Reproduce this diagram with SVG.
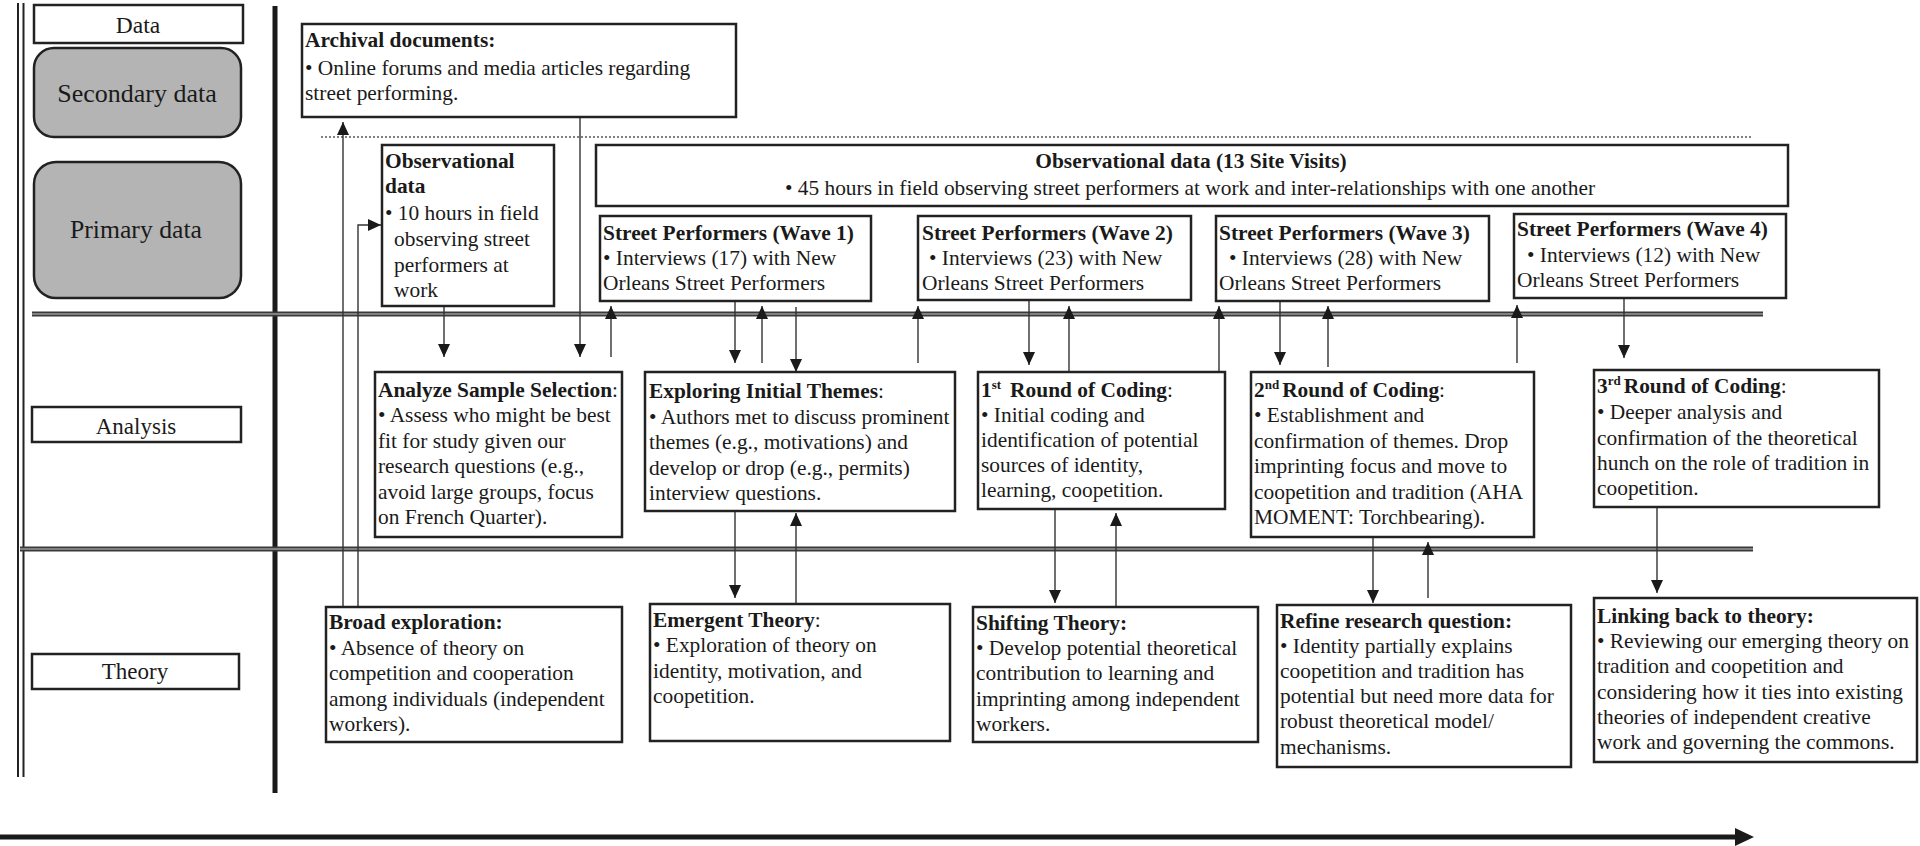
<svg xmlns="http://www.w3.org/2000/svg" width="1920" height="846" viewBox="0 0 1920 846">
<defs>
<style>
.t{font-family:"Liberation Serif","Times New Roman",serif;font-size:21.4px;fill:#1a1a1a}
.b{font-weight:bold}
.lab{font-family:"Liberation Serif","Times New Roman",serif;fill:#1a1a1a;text-anchor:middle}
.box{fill:#fff;stroke:#222;stroke-width:2.5}
.gbox{fill:#b4b4b4;stroke:#222;stroke-width:2.5}
.c{stroke:#333;stroke-width:1.4;fill:none}
.ca{stroke:#333;stroke-width:1.4;fill:none;marker-end:url(#ah)}
.hl{stroke:#3a3a3a;stroke-width:5;fill:none}
.hli{stroke:#9a9a9a;stroke-width:1.5;fill:none}
</style>
<marker id="ah" markerUnits="userSpaceOnUse" markerWidth="14" markerHeight="12" refX="13" refY="6" orient="auto">
<path d="M0,0 L13,6 L0,12 z" fill="#1a1a1a"/>
</marker>
</defs>
<rect width="1920" height="846" fill="#fff"/>

<g id="frame">
<line x1="18" y1="3" x2="18" y2="777" stroke="#222" stroke-width="2"/>
<line x1="23.5" y1="3" x2="23.5" y2="777" stroke="#222" stroke-width="2"/>
<line x1="275" y1="6" x2="275" y2="793" stroke="#1a1a1a" stroke-width="5"/>
<line class="hl" x1="32" y1="314" x2="1763" y2="314"/>
<line class="hli" x1="32" y1="314" x2="1763" y2="314"/>
<line class="hl" x1="20" y1="549" x2="1753" y2="549"/>
<line class="hli" x1="20" y1="549" x2="1753" y2="549"/>
<line x1="321" y1="137" x2="1753" y2="137" stroke="#555" stroke-width="1.3" stroke-dasharray="2 2"/>
<line x1="0" y1="837" x2="1736" y2="837" stroke="#1a1a1a" stroke-width="5"/>
<path d="M1735,828 L1754,837 L1735,846 z" fill="#1a1a1a"/>
</g>

<g id="lbl-data">
<rect class="box" x="34" y="5" width="209" height="38"/>
<text class="lab" x="138" y="33" font-size="23.5">Data</text>
</g>
<g id="lbl-secondary">
<rect class="gbox" x="34" y="48" width="207" height="89" rx="20"/>
<text class="lab" x="137" y="102" font-size="26">Secondary data</text>
</g>
<g id="lbl-primary">
<rect class="gbox" x="34" y="162" width="207" height="136" rx="22"/>
<text class="lab" x="136" y="238" font-size="25.7">Primary data</text>
</g>
<g id="lbl-analysis">
<rect class="box" x="32" y="407" width="209" height="35" stroke-width="2"/>
<text class="lab" x="136" y="434" font-size="23">Analysis</text>
</g>
<g id="lbl-theory">
<rect class="box" x="32" y="654" width="207" height="35" stroke-width="2"/>
<text class="lab" x="135" y="679" font-size="23">Theory</text>
</g>

<g id="connectors">
<line class="ca" x1="343" y1="607" x2="343" y2="122"/>
<polyline class="ca" points="358,607 358,225 381,225"/>
<line class="ca" x1="580" y1="117" x2="580" y2="357"/>
<line class="ca" x1="444" y1="306" x2="444" y2="357"/>
<line class="ca" x1="611" y1="357" x2="611" y2="306"/>
<line class="ca" x1="735" y1="301" x2="735" y2="363"/>
<line class="ca" x1="762" y1="363" x2="762" y2="306"/>
<line class="ca" x1="796" y1="307" x2="796" y2="372"/>
<line class="ca" x1="918" y1="363" x2="918" y2="306"/>
<line class="ca" x1="1029" y1="300" x2="1029" y2="365"/>
<line class="ca" x1="1069" y1="372" x2="1069" y2="306"/>
<line class="ca" x1="1219" y1="372" x2="1219" y2="306"/>
<line class="ca" x1="1280" y1="301" x2="1280" y2="365"/>
<line class="ca" x1="1328" y1="367" x2="1328" y2="306"/>
<line class="ca" x1="1517" y1="363" x2="1517" y2="305"/>
<line class="ca" x1="1624" y1="298" x2="1624" y2="358"/>
<line class="ca" x1="735" y1="511" x2="735" y2="598"/>
<line class="ca" x1="796" y1="604" x2="796" y2="513"/>
<line class="ca" x1="1055" y1="509" x2="1055" y2="603"/>
<line class="ca" x1="1116" y1="607" x2="1116" y2="513"/>
<line class="ca" x1="1373" y1="537" x2="1373" y2="603"/>
<line class="ca" x1="1428" y1="598" x2="1428" y2="542"/>
<line class="ca" x1="1657" y1="507" x2="1657" y2="593"/>
</g>

<g id="archival">
<rect class="box" x="302" y="24" width="434" height="93"/>
<text class="t b" x="305" y="47">Archival documents:</text>
<text class="t" x="305" y="75">• Online forums and media articles regarding</text>
<text class="t" x="305" y="100">street performing.</text>
</g>

<g id="obs-small">
<rect class="box" x="382" y="145" width="172" height="161"/>
<text class="t b" x="385" y="168">Observational</text>
<text class="t b" x="385" y="193">data</text>
<text class="t" x="385" y="220">• 10 hours in field</text>
<text class="t" x="394" y="246">observing street</text>
<text class="t" x="394" y="272">performers at</text>
<text class="t" x="394" y="297">work</text>
</g>

<g id="obs-13">
<rect class="box" x="596" y="145" width="1192" height="61"/>
<text class="t b" x="1191" y="168" text-anchor="middle">Observational data (13 Site Visits)</text>
<text class="t" x="1190" y="195" text-anchor="middle">• 45 hours in field observing street performers at work and inter-relationships with one another</text>
</g>

<g id="wave1">
<rect class="box" x="600" y="216" width="271" height="85"/>
<text class="t b" x="603" y="240">Street Performers (Wave 1)</text>
<text class="t" x="603" y="265">• Interviews (17) with New</text>
<text class="t" x="603" y="290">Orleans Street Performers</text>
</g>
<g id="wave2">
<rect class="box" x="918" y="216" width="273" height="84"/>
<text class="t b" x="922" y="240">Street Performers (Wave 2)</text>
<text class="t" x="929" y="265">• Interviews (23) with New</text>
<text class="t" x="922" y="290">Orleans Street Performers</text>
</g>
<g id="wave3">
<rect class="box" x="1216" y="216" width="273" height="85"/>
<text class="t b" x="1219" y="240">Street Performers (Wave 3)</text>
<text class="t" x="1229" y="265">• Interviews (28) with New</text>
<text class="t" x="1219" y="290">Orleans Street Performers</text>
</g>
<g id="wave4">
<rect class="box" x="1514" y="214" width="272" height="84"/>
<text class="t b" x="1517" y="236">Street Performers (Wave 4)</text>
<text class="t" x="1527" y="262">• Interviews (12) with New</text>
<text class="t" x="1517" y="287">Orleans Street Performers</text>
</g>

<g id="analyze">
<rect class="box" x="375" y="372" width="247" height="165"/>
<text class="t" x="378" y="397"><tspan class="b">Analyze Sample Selection</tspan>:</text>
<text class="t" x="378" y="422">• Assess who might be best</text>
<text class="t" x="378" y="448">fit for study given our</text>
<text class="t" x="378" y="473">research questions (e.g.,</text>
<text class="t" x="378" y="499">avoid large groups, focus</text>
<text class="t" x="378" y="524">on French Quarter).</text>
</g>

<g id="exploring">
<rect class="box" x="645" y="372" width="310" height="139"/>
<text class="t" x="649" y="398"><tspan class="b">Exploring Initial Themes</tspan>:</text>
<text class="t" x="649" y="424">• Authors met to discuss prominent</text>
<text class="t" x="649" y="449">themes (e.g., motivations) and</text>
<text class="t" x="649" y="475">develop or drop (e.g., permits)</text>
<text class="t" x="649" y="500">interview questions.</text>
</g>

<g id="round1">
<rect class="box" x="978" y="372" width="247" height="137"/>
<text class="t" x="981" y="397"><tspan class="b">1</tspan><tspan class="b" font-size="13" dy="-8">st</tspan><tspan class="b" dy="8" dx="9">Round of Coding</tspan>:</text>
<text class="t" x="981" y="422">• Initial coding and</text>
<text class="t" x="981" y="447">identification of potential</text>
<text class="t" x="981" y="472">sources of identity,</text>
<text class="t" x="981" y="497">learning, coopetition.</text>
</g>

<g id="round2">
<rect class="box" x="1251" y="372" width="283" height="165"/>
<text class="t" x="1254" y="397"><tspan class="b">2</tspan><tspan class="b" font-size="13" dy="-8">nd</tspan><tspan class="b" dy="8" dx="3">Round of Coding</tspan>:</text>
<text class="t" x="1254" y="422">• Establishment and</text>
<text class="t" x="1254" y="448">confirmation of themes. Drop</text>
<text class="t" x="1254" y="473">imprinting focus and move to</text>
<text class="t" x="1254" y="499">coopetition and tradition (AHA</text>
<text class="t" x="1254" y="524">MOMENT: Torchbearing).</text>
</g>

<g id="round3">
<rect class="box" x="1594" y="370" width="285" height="137"/>
<text class="t" x="1597" y="393"><tspan class="b">3</tspan><tspan class="b" font-size="13" dy="-8">rd</tspan><tspan class="b" dy="8" dx="3">Round of Coding</tspan>:</text>
<text class="t" x="1597" y="419">• Deeper analysis and</text>
<text class="t" x="1597" y="445">confirmation of the theoretical</text>
<text class="t" x="1597" y="470">hunch on the role of tradition in</text>
<text class="t" x="1597" y="495">coopetition.</text>
</g>

<g id="broad">
<rect class="box" x="326" y="607" width="296" height="135"/>
<text class="t b" x="329" y="629">Broad exploration:</text>
<text class="t" x="329" y="655">• Absence of theory on</text>
<text class="t" x="329" y="680">competition and cooperation</text>
<text class="t" x="329" y="706">among individuals (independent</text>
<text class="t" x="329" y="731">workers).</text>
</g>

<g id="emergent">
<rect class="box" x="650" y="604" width="300" height="137"/>
<text class="t" x="653" y="627"><tspan class="b">Emergent Theory</tspan>:</text>
<text class="t" x="653" y="652">• Exploration of theory on</text>
<text class="t" x="653" y="678">identity, motivation, and</text>
<text class="t" x="653" y="703">coopetition.</text>
</g>

<g id="shifting">
<rect class="box" x="973" y="607" width="285" height="135"/>
<text class="t b" x="976" y="630">Shifting Theory:</text>
<text class="t" x="976" y="655">• Develop potential theoretical</text>
<text class="t" x="976" y="680">contribution to learning and</text>
<text class="t" x="976" y="706">imprinting among independent</text>
<text class="t" x="976" y="731">workers.</text>
</g>

<g id="refine">
<rect class="box" x="1277" y="605" width="294" height="162"/>
<text class="t b" x="1280" y="628">Refine research question:</text>
<text class="t" x="1280" y="653">• Identity partially explains</text>
<text class="t" x="1280" y="678">coopetition and tradition has</text>
<text class="t" x="1280" y="703">potential but need more data for</text>
<text class="t" x="1280" y="728">robust theoretical model/</text>
<text class="t" x="1280" y="754">mechanisms.</text>
</g>

<g id="linking">
<rect class="box" x="1594" y="598" width="323" height="164"/>
<text class="t b" x="1597" y="623">Linking back to theory:</text>
<text class="t" x="1597" y="648">• Reviewing our emerging theory on</text>
<text class="t" x="1597" y="673">tradition and coopetition and</text>
<text class="t" x="1597" y="699">considering how it ties into existing</text>
<text class="t" x="1597" y="724">theories of independent creative</text>
<text class="t" x="1597" y="749">work and governing the commons.</text>
</g>
</svg>
